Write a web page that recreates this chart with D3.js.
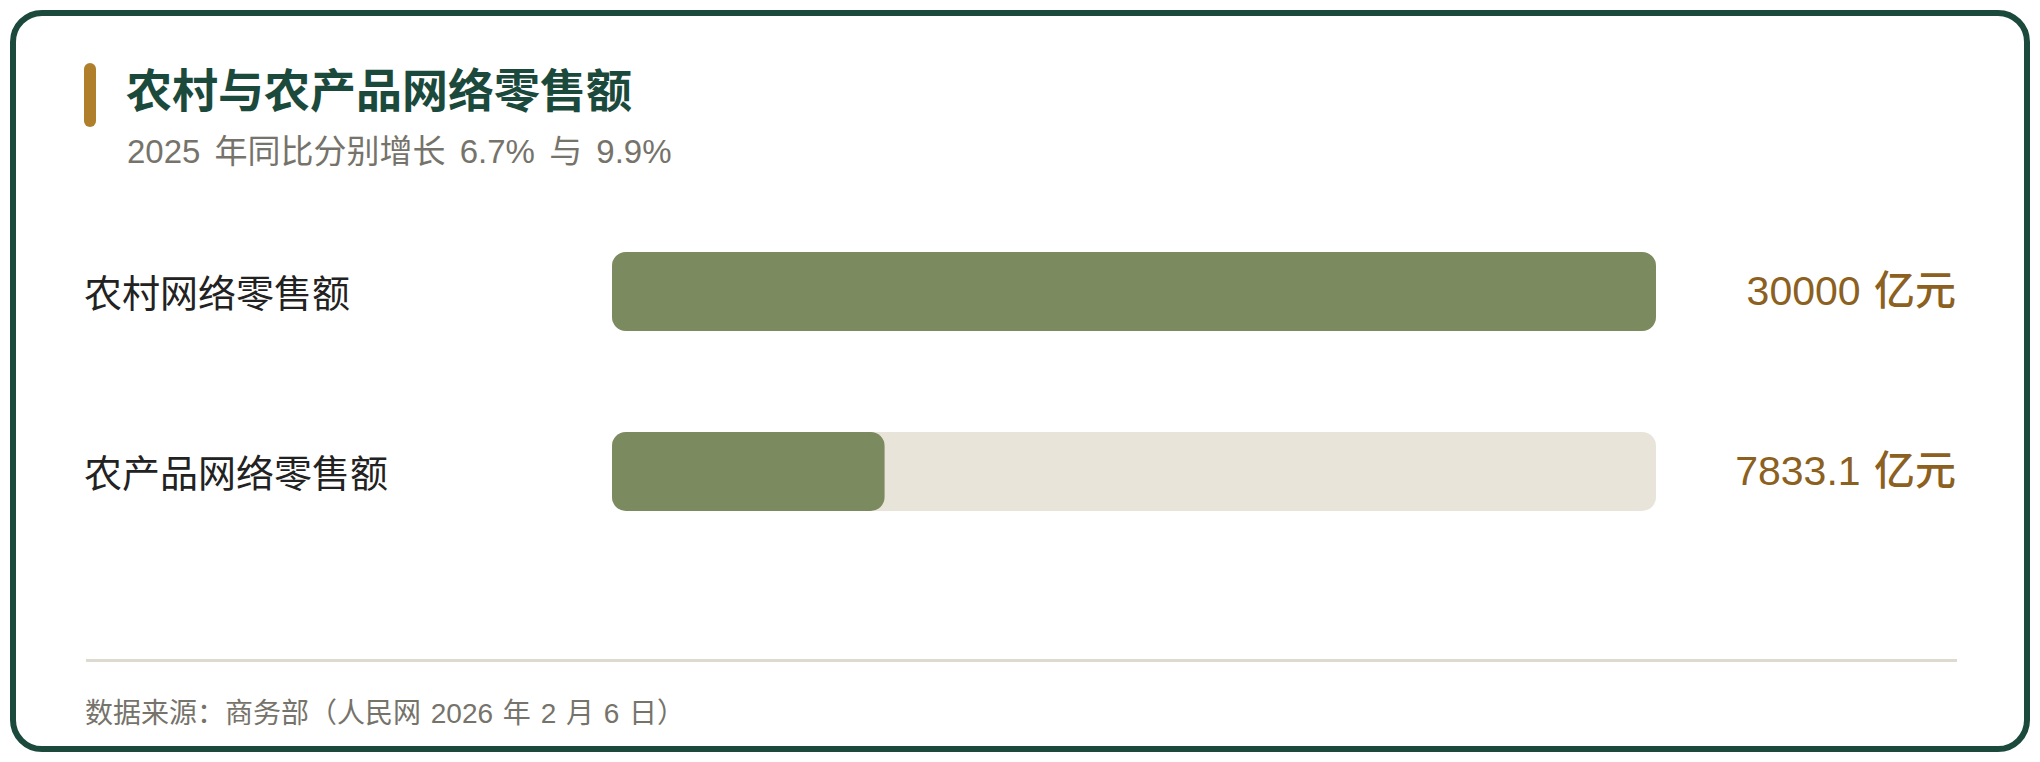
<!DOCTYPE html>
<html>
<head>
<meta charset="utf-8">
<script src="https://cdn.jsdelivr.net/npm/d3@7"></script>
<style>
    html, body { margin: 0; padding: 0; background: #ffffff; }
    svg text { font-family: "Liberation Sans", "Noto Sans CJK SC", sans-serif; }
</style>
</head>
<body>
<div id="barChart"></div>
<script>
// 1: DATA
const categories = ["农村网络零售额", "农产品网络零售额"];
const values = [30000, 7833.1];
const unit = "亿元";
const titleText = "农村与农产品网络零售额";
const subtitleText = "2025 年同比分别增长 6.7% 与 9.9%";
const sourceText = "数据来源：商务部（人民网 2026 年 2 月 6 日）";

// 2: SET GLOBAL VARIABLES
const W = 2040, H = 762;
const plot = { left: 612, right: 1656, top: 201.5, bottom: 561.5 };
const contentLeft = 86, contentRight = 1956;

const svg = d3.select("#barChart")
    .append("svg")
    .attr("width", W)
    .attr("height", H);

// card frame
svg.append("rect")
    .attr("x", 13).attr("y", 13)
    .attr("width", W - 26).attr("height", H - 26)
    .attr("rx", 29)
    .attr("fill", "#ffffff")
    .attr("stroke", "#1b4a3c")
    .attr("stroke-width", 6);

// 3: TITLE BLOCK
svg.append("rect")
    .attr("x", 84).attr("y", 63)
    .attr("width", 12).attr("height", 64)
    .attr("rx", 6)
    .attr("fill", "#b07f2c");

svg.append("text")
    .attr("x", 126).attr("y", 107)
    .attr("font-size", 46)
    .attr("font-weight", 700)
    .attr("fill", "#1b4a3c")
    .text(titleText);

svg.append("text")
    .attr("x", 127).attr("y", 163)
    .attr("font-size", 33)
    .attr("word-spacing", 5)
    .attr("fill", "#76736b")
    .text(subtitleText);

// 4: SCALES
const xScale = d3.scaleLinear()
    .domain([0, d3.max(values)])
    .range([plot.left, plot.right]);

const yScale = d3.scaleBand()
    .domain(categories)
    .range([plot.top, plot.bottom])
    .paddingInner(101 / 180)
    .paddingOuter(101 / 360);

const rows = categories.map((c, i) => ({ cat: c, value: values[i] }));

// 5: BARS
const row = svg.selectAll("g.row")
    .data(rows)
    .enter()
    .append("g")
    .attr("class", "row");

// track
row.append("rect")
    .attr("x", xScale(0))
    .attr("y", d => yScale(d.cat))
    .attr("width", xScale.range()[1] - xScale(0))
    .attr("height", yScale.bandwidth())
    .attr("rx", 14)
    .attr("fill", "#e8e4da");

// value bar
row.append("rect")
    .attr("x", xScale(0))
    .attr("y", d => yScale(d.cat))
    .attr("width", d => xScale(d.value) - xScale(0))
    .attr("height", yScale.bandwidth())
    .attr("rx", 14)
    .attr("fill", "#7b8a5f");

// 6: LABELS
row.append("text")
    .attr("x", 84)
    .attr("y", d => yScale(d.cat) + yScale.bandwidth() / 2 + 15)
    .attr("font-size", 38)
    .attr("fill", "#222222")
    .text(d => d.cat);

row.append("text")
    .attr("x", contentRight)
    .attr("y", d => yScale(d.cat) + yScale.bandwidth() / 2 + 13.5)
    .attr("text-anchor", "end")
    .attr("font-size", 41)
    .attr("font-weight", 500)
    .attr("word-spacing", 2)
    .attr("fill", "#8b6020")
    .text(d => `${d.value} ${unit}`);

// 7: FOOTER
svg.append("line")
    .attr("x1", contentLeft).attr("x2", 1957)
    .attr("y1", 660.5).attr("y2", 660.5)
    .attr("stroke", "#dedad0")
    .attr("stroke-width", 3);

svg.append("text")
    .attr("x", 85).attr("y", 723)
    .attr("font-size", 28)
    .attr("word-spacing", 2)
    .attr("fill", "#76736b")
    .text(sourceText);
</script>
</body>
</html>
